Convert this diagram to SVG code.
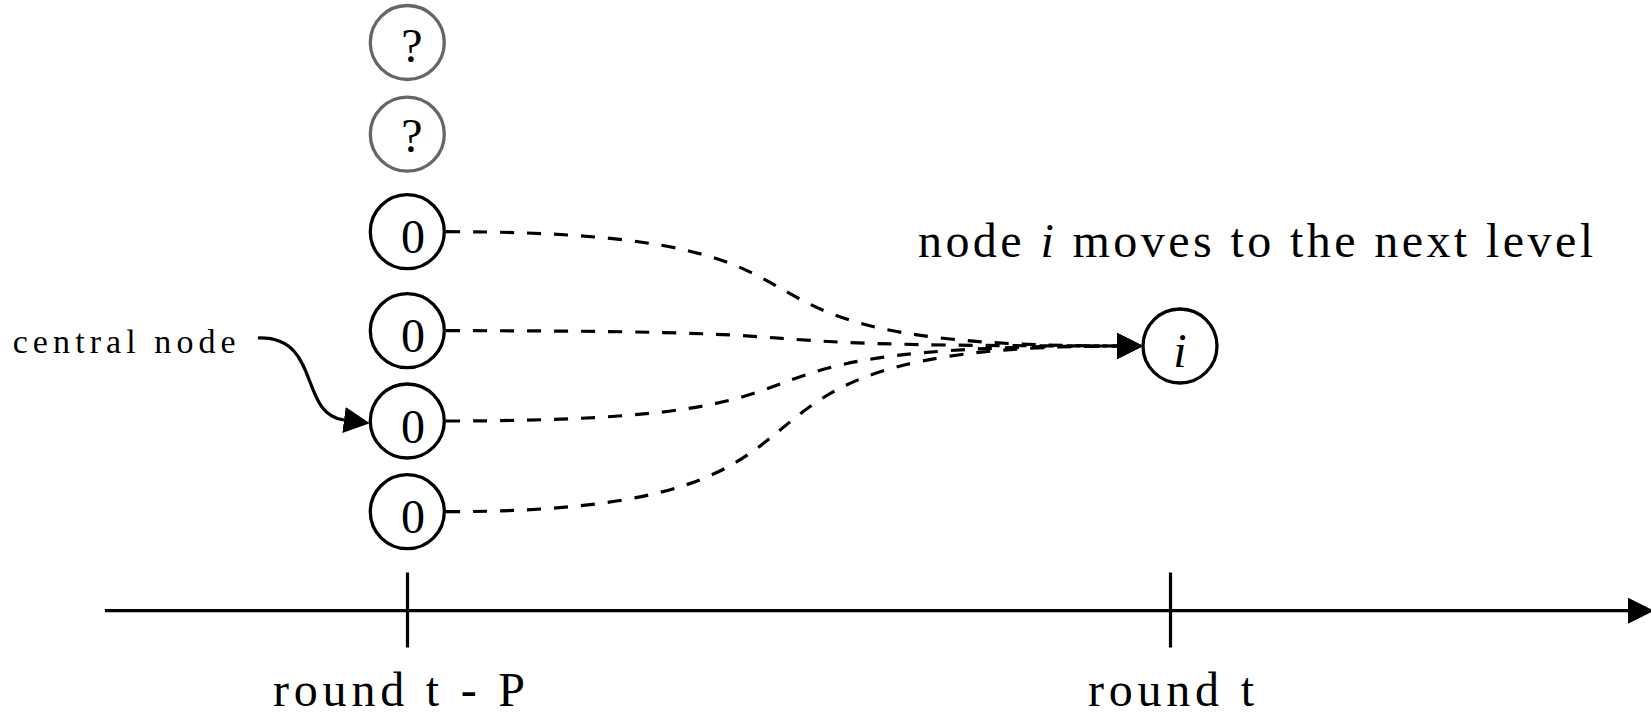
<svg xmlns="http://www.w3.org/2000/svg" width="1651" height="717" viewBox="0 0 1651 717">
<style>
  .node { fill: #fff; stroke: #000; stroke-width: 3.3; }
  .unk { fill: #fff; stroke: #666; stroke-width: 3.3; }
  .lbl { font-family: "Liberation Serif", "DejaVu Serif", serif; fill: #000; }
  .big { font-size: 48px; }
  .dig { font-size: 48px; text-anchor: middle; }
  .small { font-size: 34px; }
  .dash { fill: none; stroke: #000; stroke-width: 3.2; stroke-dasharray: 14 13; }
  .solid { fill: none; stroke: #000; stroke-width: 3.2; }
</style>
<defs>
  <marker id="arr" markerUnits="userSpaceOnUse" markerWidth="26" markerHeight="26" refX="0" refY="12" orient="auto" viewBox="0 0 24 24">
    <path d="M0,0 L24,12 L0,24 Z" fill="#000"/>
  </marker>
</defs>
<rect width="1651" height="717" fill="#fff"/>

<g id="connectors">
  <path class="dash" d="M446,231.7 C916,231.7 647,346 1117,346" marker-end="url(#arr)"/>
  <path class="dash" d="M446,330.7 C916,330.7 647,346 1117,346" marker-end="url(#arr)"/>
  <path class="dash" d="M446,421 C916,421 647,346 1117,346" marker-end="url(#arr)"/>
  <path class="dash" d="M446,511.7 C916,511.7 647,346 1117,346" marker-end="url(#arr)"/>
  <path class="solid" d="M258,338 C322,336 298,414 344,420" marker-end="url(#arr)"/>
</g>

<g id="axis">
  <path class="solid" d="M105,610.7 L1628,610.7" marker-end="url(#arr)"/>
  <line class="solid" x1="407.5" y1="572.5" x2="407.5" y2="647.5"/>
  <line class="solid" x1="1170.5" y1="572.5" x2="1170.5" y2="647.5"/>
  <text class="lbl big" x="273" y="706" textLength="252" lengthAdjust="spacing">round t - P</text>
  <text class="lbl big" x="1088" y="706" textLength="166" lengthAdjust="spacing">round t</text>
</g>

<g id="node-q1">
  <circle class="unk" cx="407.3" cy="42.5" r="37"/>
  <text class="lbl dig" x="412" y="61.5" font-size="46">?</text>
</g>
<g id="node-q2">
  <circle class="unk" cx="407.3" cy="134.2" r="37"/>
  <text class="lbl dig" x="412" y="151.5" font-size="46">?</text>
</g>
<g id="node-z1">
  <circle class="node" cx="407.3" cy="231.7" r="37"/>
  <text class="lbl dig" x="413" y="253.3">0</text>
</g>
<g id="node-z2">
  <circle class="node" cx="407.3" cy="330.7" r="37"/>
  <text class="lbl dig" x="413" y="352.3">0</text>
</g>
<g id="node-z3">
  <circle class="node" cx="407.3" cy="421" r="37"/>
  <text class="lbl dig" x="413" y="442.6">0</text>
</g>
<g id="node-z4">
  <circle class="node" cx="407.3" cy="511.7" r="37"/>
  <text class="lbl dig" x="413" y="533.3">0</text>
</g>
<g id="node-i">
  <circle class="node" cx="1180" cy="346" r="37"/>
  <text class="lbl big" x="1180" y="366.5" text-anchor="middle" font-style="italic">i</text>
</g>

<g id="label-central">
  <text class="lbl small" x="12.7" y="353" textLength="223" lengthAdjust="spacing">central node</text>
</g>
<g id="label-moves">
  <text class="lbl big" x="918" y="257" textLength="675" lengthAdjust="spacing">node <tspan font-style="italic">i</tspan> moves to the next level</text>
</g>
</svg>
